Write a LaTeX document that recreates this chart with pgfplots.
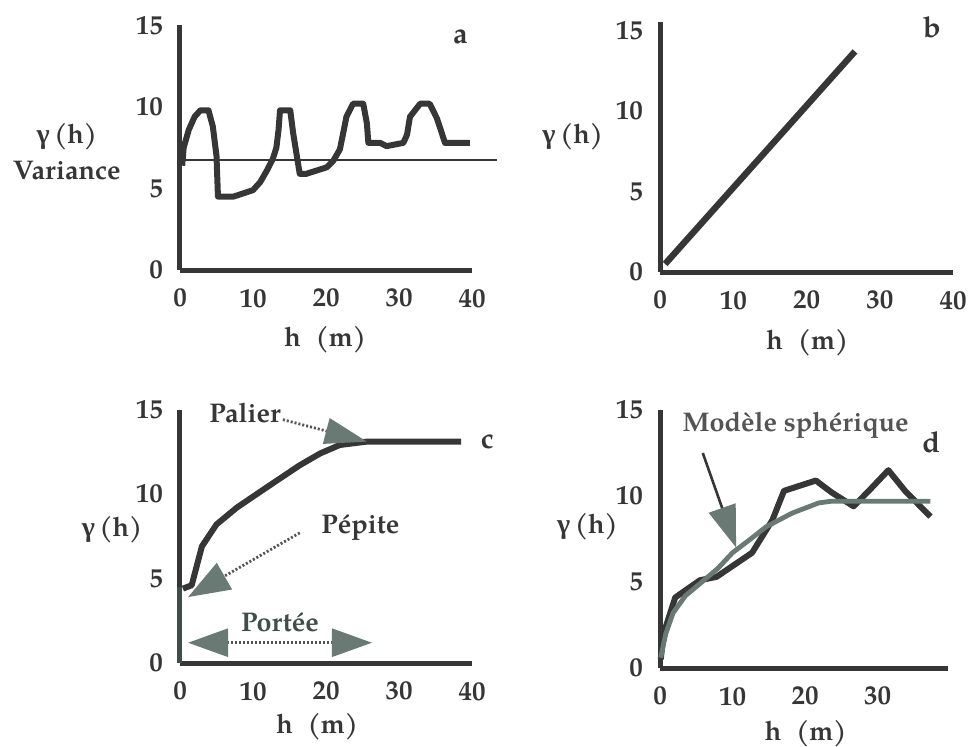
\documentclass[border=0pt]{standalone}
\usepackage{fontspec}
\setmainfont{TeX Gyre Pagella}
\newfontfamily\gfont{Liberation Serif}
\usepackage{pgfplots}
\pgfplotsset{compat=1.18}
\usetikzlibrary{arrows.meta}

\definecolor{ink}{HTML}{363636}
\definecolor{sage}{HTML}{687A73}
\definecolor{slate}{HTML}{3E4F4A}

\newcommand{\gam}{{\gfont\bfseries\fontsize{14}{16}\selectfont γ}\,(h)}
\newcommand{\hm}{h\hspace{0.55em}(m)}

\tikzset{
  lbl/.style={font=\fontsize{13.5}{15}\selectfont\bfseries, text=ink},
  plet/.style={font=\fontsize{14.5}{16}\selectfont\bfseries, text=ink},
  curve/.style={ink, line width=3pt, line join=round},
  dots/.style={ink!85, line width=1.4pt, dash pattern=on 1pt off 1pt},
}
\pgfplotsset{
  panel/.style={
    anchor=origin, clip=false, enlargelimits=false,
    xmin=0, xmax=40, ymin=0, ymax=15,
    axis lines=left,
    axis line style={ink, line width=2.5pt, -},
    major tick length=0pt,
    xtick={0,10,20,30,40}, ytick={0,5,10,15},
    tick label style={font=\fontsize{13.5}{15}\selectfont\bfseries, text=ink},
    xticklabel style={yshift=-6pt},
    yticklabel style={xshift=-5pt},
    /pgf/number format/assume math mode=true,
  },
}

\begin{document}
\begin{tikzpicture}
\path[use as bounding box] (0,0) rectangle (485pt,373pt);

% a
\begin{axis}[panel, at={(90pt,238pt)}, x=3.65pt, y=8.15pt]
\addplot[ink, line width=0.8pt] coordinates {(0,6.75) (43.4,6.75)};
\addplot[curve] coordinates {
(0.3,6.4) (0.5,7.5) (1.2,8.6) (2.0,9.4) (2.8,9.8) (3.9,9.8) (4.5,8.8)
(5.0,7.0) (5.2,4.5) (7.3,4.5) (10.0,4.9) (11.0,5.4) (11.9,6.1) (12.7,6.8)
(13.2,7.5) (13.5,8.6) (13.7,9.8) (15.1,9.8) (15.5,8.4) (16.4,5.9) (17.3,5.9)
(20.1,6.3) (21.0,6.7) (21.9,7.4) (22.4,8.5) (22.8,9.4) (23.7,10.2) (25.1,10.2)
(25.6,9.0) (25.8,7.8) (27.4,7.8) (28.3,7.6) (30.6,7.8) (31.1,8.3) (31.5,9.4)
(32.9,10.2) (34.2,10.2) (35.2,9.3) (36.3,7.8) (39.7,7.8)
};
\node[lbl] at (axis cs:-15.5,8.2) {\gam};
\node[lbl] at (axis cs:-15.5,6.1) {Variance};
\node[lbl] at (axis cs:19.9,-4.3) {\hm};
\node[plet] at (axis cs:38.4,14.3) {a};
\end{axis}

% b
\begin{axis}[panel, at={(330pt,237pt)}, x=3.665pt, y=8.05pt, ymax=15.5]
\addplot[ink, line width=3.2pt] coordinates {(0.7,0.5) (26.6,13.7)};
\node[lbl] at (axis cs:-11.9,8.4) {\gam};
\node[lbl] at (axis cs:20.1,-4.4) {\hm};
\node[plet] at (axis cs:37.1,15.2) {b};
\end{axis}

% c
\begin{axis}[panel, at={(90pt,41.5pt)}, x=3.65pt, y=8.45pt]
\addplot[slate, line width=2.5pt] coordinates {(0,0) (0,4.5)};
\addplot[curve] coordinates {
(0.4,4.4) (1.6,4.6) (3.0,6.9) (5.0,8.2) (7.8,9.2) (11.9,10.4) (16.4,11.7)
(19.2,12.4) (21.9,12.9) (25.6,13.1) (38.5,13.1)
};
\draw[dots, -{Triangle[length=21pt, width=13pt, color=sage, fill=sage]}]
  (axis cs:14.1,14.4) -- (axis cs:25.6,13.1);
\draw[dots, -{Triangle[length=21pt, width=15pt, color=sage, fill=sage]}]
  (axis cs:16.4,7.7) -- (axis cs:1.1,3.9);
\draw[dots,
  {Triangle[length=20pt, width=14pt, color=sage, fill=sage]}-{Triangle[length=20pt, width=14pt, color=sage, fill=sage]}]
  (axis cs:1.1,1.2) -- (axis cs:26.3,1.2);
\node[lbl] at (axis cs:8.9,14.8) {Palier};
\node[lbl] at (axis cs:24.7,8.0) {Pépite};
\node[lbl, text=slate] at (axis cs:13.7,2.4) {Portée};
\node[lbl] at (axis cs:-9.3,7.9) {\gam};
\node[lbl] at (axis cs:18.8,-3.8) {\hm};
\node[plet] at (axis cs:42.1,13.1) {c};
\end{axis}

% d
\begin{axis}[panel, at={(330pt,39pt)}, x=3.625pt, y=8.6pt, xmax=39.7]
\addplot[curve] coordinates {
(0.1,0.5) (0.5,2.0) (2.1,4.1) (5.5,5.1) (7.8,5.3) (12.7,6.7) (15.5,8.6)
(17.1,10.3) (21.5,10.9) (23.7,10.2) (26.7,9.4) (28.8,10.3) (31.5,11.5)
(33.8,10.3) (37.3,8.8)
};
\addplot[sage, line width=2.4pt, line join=round] coordinates {
(0.1,0.6) (0.8,2.0) (1.8,3.2) (3.5,4.2) (5.5,4.9) (8.0,5.8) (10.0,6.7)
(12.5,7.5) (14.6,8.2) (18.2,9.0) (21.9,9.6) (23.7,9.7) (37.3,9.7)
};
\draw[ink, line width=1.3pt,
  -{Triangle[length=21pt, width=14pt, color=sage, fill=sage]}]
  (axis cs:5.9,12.5) -- (axis cs:10.5,7.0);
\node[lbl, text=ink!85] at (axis cs:18.7,14.1) {Modèle sphérique};
\node[lbl] at (axis cs:-10,8.2) {\gam};
\node[lbl] at (axis cs:20.1,-3.8) {\hm};
\node[plet] at (axis cs:37.4,13.1) {d};
\end{axis}
\end{tikzpicture}
\end{document}
